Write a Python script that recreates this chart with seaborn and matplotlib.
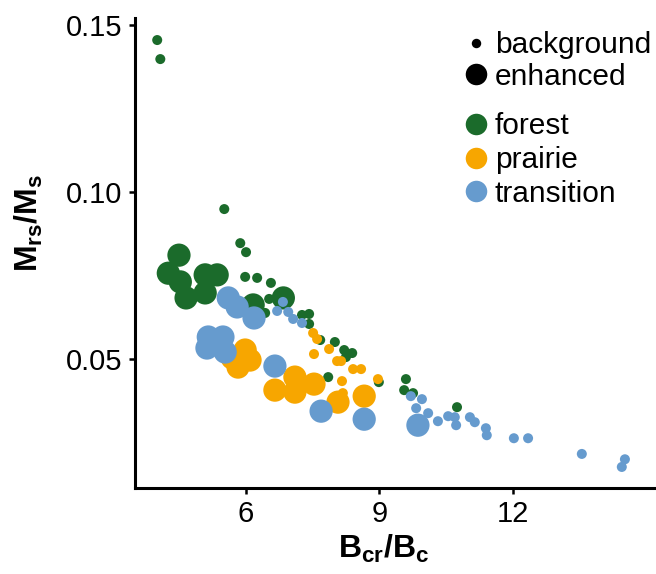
import matplotlib
matplotlib.use("Agg")
import matplotlib.pyplot as plt
import seaborn as sns
import pandas as pd
from matplotlib.lines import Line2D

# ---- data ----
forest_bg_x = [4.00, 4.07, 5.51, 5.87, 6.00, 5.98, 6.25, 6.56, 6.52, 6.43, 7.26, 7.42, 7.42,
               7.67, 8.00, 8.21, 8.39, 8.25, 7.85, 8.99, 9.60, 9.56, 9.76, 10.75]
forest_bg_y = [0.1455, 0.1398, 0.0949, 0.0847, 0.0820, 0.0746, 0.0743, 0.0728, 0.0680, 0.0638,
               0.0632, 0.0635, 0.0605, 0.0557, 0.0551, 0.0527, 0.0518, 0.0506, 0.0446, 0.0431,
               0.0440, 0.0407, 0.0398, 0.0356]
forest_enh_x = [4.49, 4.25, 4.52, 4.65, 5.08, 5.35, 5.08, 6.16, 6.84]
forest_enh_y = [0.0811, 0.0757, 0.0731, 0.0683, 0.0752, 0.0752, 0.0698, 0.0662, 0.0683]

prairie_bg_x = [7.51, 7.60, 7.53, 7.87, 8.05, 8.14, 8.41, 8.59, 8.16, 8.97, 8.18]
prairie_bg_y = [0.0578, 0.0560, 0.0515, 0.0530, 0.0494, 0.0494, 0.0470, 0.0470, 0.0434, 0.0440, 0.0398]
prairie_enh_x = [5.98, 6.09, 5.82, 5.69, 6.65, 7.10, 7.10, 7.53, 8.07, 8.66]
prairie_enh_y = [0.0527, 0.0497, 0.0476, 0.0503, 0.0407, 0.0446, 0.0401, 0.0425, 0.0371, 0.0389]

transition_bg_x = [6.83, 6.70, 6.95, 7.06, 7.26, 9.71, 9.96, 9.83, 10.10, 10.32, 10.55, 10.70,
                   10.73, 11.04, 11.15, 11.40, 11.42, 12.03, 12.35, 13.56, 14.53, 14.46]
transition_bg_y = [0.0671, 0.0644, 0.0641, 0.0620, 0.0608, 0.0389, 0.0380, 0.0353, 0.0338, 0.0314,
                   0.0329, 0.0326, 0.0302, 0.0326, 0.0311, 0.0293, 0.0272, 0.0263, 0.0263, 0.0216,
                   0.0200, 0.0177]
transition_enh_x = [5.60, 5.80, 6.18, 5.15, 5.48, 5.12, 5.53, 6.65, 7.69, 8.66, 9.87]
transition_enh_y = [0.0683, 0.0656, 0.0623, 0.0566, 0.0566, 0.0533, 0.0521, 0.0479, 0.0344, 0.0320, 0.0302]

sites = ["forest", "prairie", "transition"]
kinds = ["background", "enhanced"]
colors = {"forest": "#1B6B2B", "prairie": "#F7A600", "transition": "#669BCE"}
x_ticks = [6, 9, 12]
y_ticks = [0.05, 0.10, 0.15]
y_ticklabels = ["0.05", "0.10", "0.15"]

groups = [
    ("forest", "background", forest_bg_x, forest_bg_y),
    ("forest", "enhanced", forest_enh_x, forest_enh_y),
    ("prairie", "background", prairie_bg_x, prairie_bg_y),
    ("prairie", "enhanced", prairie_enh_x, prairie_enh_y),
    ("transition", "background", transition_bg_x, transition_bg_y),
    ("transition", "enhanced", transition_enh_x, transition_enh_y),
]
rows = []
for site, kind, xs, ys in groups:
    for xv, yv in zip(xs, ys):
        rows.append({"Bcr_Bc": xv, "Mrs_Ms": yv, "site": site, "kind": kind})
df = pd.DataFrame(rows)

# ---- style ----
sns.set_style("white")
plt.rcParams["font.family"] = ["Liberation Sans", "DejaVu Sans"]
plt.rcParams["mathtext.fontset"] = "custom"
plt.rcParams["mathtext.rm"] = "Liberation Sans"
plt.rcParams["mathtext.bf"] = "Liberation Sans:bold"
plt.rcParams["mathtext.it"] = "Liberation Sans:italic"
plt.rcParams["text.color"] = "black"
plt.rcParams["axes.labelcolor"] = "black"
plt.rcParams["xtick.color"] = "black"
plt.rcParams["ytick.color"] = "black"

fig = plt.figure(figsize=(6.56, 5.74), dpi=100)
ax = fig.add_axes([135 / 656, 86 / 574, 521 / 656, 470 / 574])

sns.scatterplot(data=df, x="Bcr_Bc", y="Mrs_Ms", hue="site", size="kind",
                hue_order=sites, size_order=kinds, palette=colors,
                sizes={"background": 52, "enhanced": 280}, linewidth=0,
                alpha=1, legend=False, ax=ax, zorder=3)

ax.set_xlim(3.50, 15.23)
ax.set_ylim(0.0114, 0.1521)
ax.set_xticks(x_ticks)
ax.set_xticklabels([str(t) for t in x_ticks])
ax.set_yticks(y_ticks)
ax.set_yticklabels(y_ticklabels)
ax.tick_params(axis="both", direction="out", length=4, width=1.8, labelsize=21,
               color="black", labelcolor="black", pad=5, bottom=True, left=True)
for side in ["top", "right"]:
    ax.spines[side].set_visible(False)
for side in ["left", "bottom"]:
    ax.spines[side].set_linewidth(2.2)
    ax.spines[side].set_color("black")
    ax.spines[side].set_capstyle("projecting")

ax.set_xlabel(r"$\mathbf{B_{cr}/B_c}$", fontsize=23)
ax.set_ylabel(r"$\mathbf{M_{rs}/M_s}$", fontsize=23)
ax.xaxis.set_label_coords(0.478, -0.095)
ax.yaxis.set_label_coords(-0.172, 0.565)

# ---- legends ----
size_handles = [
    Line2D([], [], marker="o", linestyle="", color="black", markersize=6.8, markeredgewidth=0),
    Line2D([], [], marker="o", linestyle="", color="black", markersize=15.5, markeredgewidth=0),
]
leg1 = ax.legend(size_handles, kinds, loc="upper left", bbox_to_anchor=(0.625, 0.972),
                 frameon=False, fontsize=21.5, handlelength=1.0, handletextpad=0.15,
                 labelspacing=0.12, borderpad=0, borderaxespad=0)
ax.add_artist(leg1)
site_handles = [
    Line2D([], [], marker="o", linestyle="", color=colors[s], markersize=15.5, markeredgewidth=0)
    for s in sites
]
ax.legend(site_handles, sites, loc="upper left", bbox_to_anchor=(0.625, 0.800),
          frameon=False, fontsize=21.5, handlelength=1.0, handletextpad=0.15,
          labelspacing=0.2, borderpad=0, borderaxespad=0)

fig.savefig("out.png", dpi=100)
